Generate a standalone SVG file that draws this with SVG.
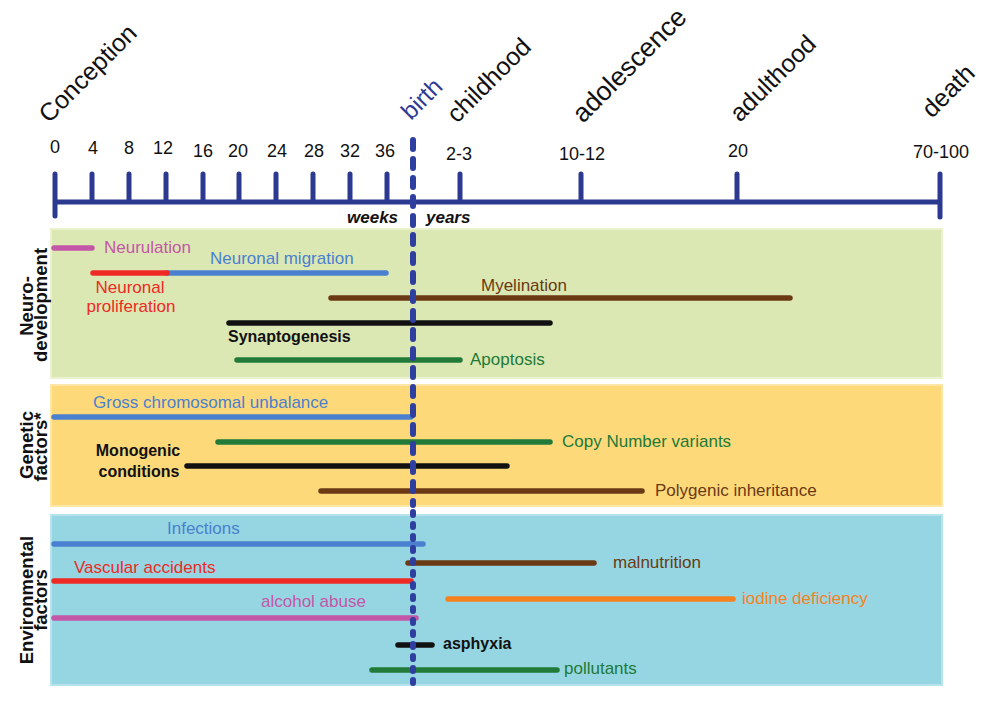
<svg xmlns="http://www.w3.org/2000/svg" width="1000" height="720" viewBox="0 0 1000 720">
<style>
text{font-family:"Liberation Sans",Arial,sans-serif}
.stage{font-size:25px;fill:#111}
.num{font-size:18px;fill:#111;text-anchor:middle}
.unit{font-size:17px;font-weight:bold;font-style:italic;fill:#111}
.side{font-size:18.5px;font-weight:bold;fill:#111;text-anchor:middle}
.lbl{font-size:17px}
.blbl{font-size:16px;font-weight:bold;fill:#111}
.axis{stroke:#2b3990;stroke-width:5;fill:none;stroke-linecap:round}
.bar{stroke-width:5.5;stroke-linecap:round;fill:none}
.panel{stroke-width:2}
</style>
<rect width="1000" height="720" fill="#fff"/>
<g id="panels">
<rect id="panel-neuro" class="panel" x="51" y="229" width="891" height="149" fill="#dce8b3" stroke="#e9f1cf"/>
<rect id="panel-genetic" class="panel" x="51" y="385" width="891" height="121" fill="#fdd97a" stroke="#fde6a6"/>
<rect id="panel-env" class="panel" x="51" y="515" width="891" height="170" fill="#95d6e2" stroke="#b9e3ec"/>
</g>
<g id="side-labels">
<text class="side" transform="translate(33,306) rotate(-90)">Neuro-</text>
<text class="side" transform="translate(47,305) rotate(-90)">development</text>
<text class="side" transform="translate(33,445) rotate(-90)">Genetic</text>
<text class="side" transform="translate(47,447) rotate(-90)">factors*</text>
<text class="side" transform="translate(33,600) rotate(-90)">Environmental</text>
<text class="side" transform="translate(47,600) rotate(-90)">factors</text>
</g>
<g id="axis">
<path class="axis" d="M55 202H940M55 174V216M92 174V202M129 174V202M166 174V202M203 174V202M239 174V202M276 174V202M313 174V202M350 174V202M387 174V202M460 174V202M581 174V202M737 174V202M940 174V217"/>
<text class="num" x="55" y="153">0</text>
<text class="num" x="93" y="154">4</text>
<text class="num" x="129" y="154">8</text>
<text class="num" x="163" y="154">12</text>
<text class="num" x="203" y="157">16</text>
<text class="num" x="238" y="157">20</text>
<text class="num" x="277" y="157">24</text>
<text class="num" x="314" y="157">28</text>
<text class="num" x="350" y="157">32</text>
<text class="num" x="385" y="157">36</text>
<text class="num" x="459" y="160">2-3</text>
<text class="num" x="582" y="160">10-12</text>
<text class="num" x="738" y="157">20</text>
<text class="num" x="941" y="158">70-100</text>
<text class="unit" x="347" y="223">weeks</text>
<text class="unit" x="426" y="223">years</text>
</g>
<g id="stages">
<text class="stage" transform="translate(49,124) rotate(-45)">Conception</text>
<text class="stage" transform="translate(411,121) rotate(-45)" style="fill:#2e3a94;font-size:24px">birth</text>
<text class="stage" transform="translate(457,124) rotate(-45)">childhood</text>
<text class="stage" transform="translate(583,124) rotate(-45)" style="font-size:26.5px">adolescence</text>
<text class="stage" transform="translate(740,123) rotate(-45)">adulthood</text>
<text class="stage" transform="translate(932,119) rotate(-45)">death</text>
</g>
<g id="connectors">
<g id="neurodevelopment">
<g id="neurulation"><path class="bar" stroke="#c456a8" d="M54 248H92"/><text class="lbl" x="104" y="253" fill="#c456a8">Neurulation</text></g>
<g id="neuronal-migration"><path class="bar" stroke="#4a80cf" d="M167 273H386"/><text class="lbl" x="210" y="264" fill="#4a80cf">Neuronal migration</text></g>
<g id="neuronal-proliferation"><path class="bar" stroke="#ee2a24" d="M93 273H167"/><text class="lbl" x="130" y="293" fill="#ee2a24" text-anchor="middle">Neuronal</text><text class="lbl" x="131" y="312" fill="#ee2a24" text-anchor="middle">proliferation</text></g>
<g id="myelination"><path class="bar" stroke="#6b3a14" d="M331 298H790"/><text class="lbl" x="481" y="291" fill="#6b3a14">Myelination</text></g>
<g id="synaptogenesis"><path class="bar" stroke="#111" d="M229 323H550"/><text class="blbl" x="228" y="342">Synaptogenesis</text></g>
<g id="apoptosis"><path class="bar" stroke="#217a37" d="M237 360H460"/><text class="lbl" x="470" y="365" fill="#217a37">Apoptosis</text></g>
</g>
<g id="genetic">
<g id="gross-chromosomal"><path class="bar" stroke="#4a80cf" d="M54 417H411"/><text class="lbl" x="93" y="408" fill="#4a80cf">Gross chromosomal unbalance</text></g>
<g id="cnv"><path class="bar" stroke="#217a37" d="M218 442H550"/><text class="lbl" x="562" y="447" fill="#217a37">Copy Number variants</text></g>
<g id="monogenic"><path class="bar" stroke="#111" d="M187 466H507"/><text class="blbl" x="138" y="456" text-anchor="middle">Monogenic</text><text class="blbl" x="139" y="477" text-anchor="middle">conditions</text></g>
<g id="polygenic"><path class="bar" stroke="#6b3a14" d="M321 491H642"/><text class="lbl" x="655" y="496" fill="#6b3a14">Polygenic inheritance</text></g>
</g>
<g id="environmental">
<g id="infections"><path class="bar" stroke="#4a80cf" d="M54 544H423"/><text class="lbl" x="167" y="534" fill="#4a80cf">Infections</text></g>
<g id="malnutrition"><path class="bar" stroke="#6b3a14" d="M408 563H594"/><text class="lbl" x="613" y="568" fill="#6b3a14">malnutrition</text></g>
<g id="vascular"><path class="bar" stroke="#ee2a24" d="M54 581H411"/><text class="lbl" x="74" y="573" fill="#ee2a24">Vascular accidents</text></g>
<g id="iodine"><path class="bar" stroke="#f6821f" d="M448 599H733"/><text class="lbl" x="742" y="604" fill="#f6821f">iodine deficiency</text></g>
<g id="alcohol"><path class="bar" stroke="#c456a8" d="M54 618H416"/><text class="lbl" x="261" y="607" fill="#c456a8">alcohol abuse</text></g>
<g id="asphyxia"><path class="bar" stroke="#111" d="M398 645H432"/><text class="blbl" x="443" y="649">asphyxia</text></g>
<g id="pollutants"><path class="bar" stroke="#217a37" d="M372 670H557"/><text class="lbl" x="564" y="674" fill="#217a37">pollutants</text></g>
</g>
</g>
<g id="birth-line">
<path d="M413 140V505" stroke="#2e3f9f" stroke-width="6" stroke-linecap="round" stroke-dasharray="9 10" fill="none"/>
<path d="M413 512V684" stroke="#2e3f9f" stroke-width="6" stroke-linecap="round" stroke-dasharray="3 9" fill="none"/>
</g>
</svg>
